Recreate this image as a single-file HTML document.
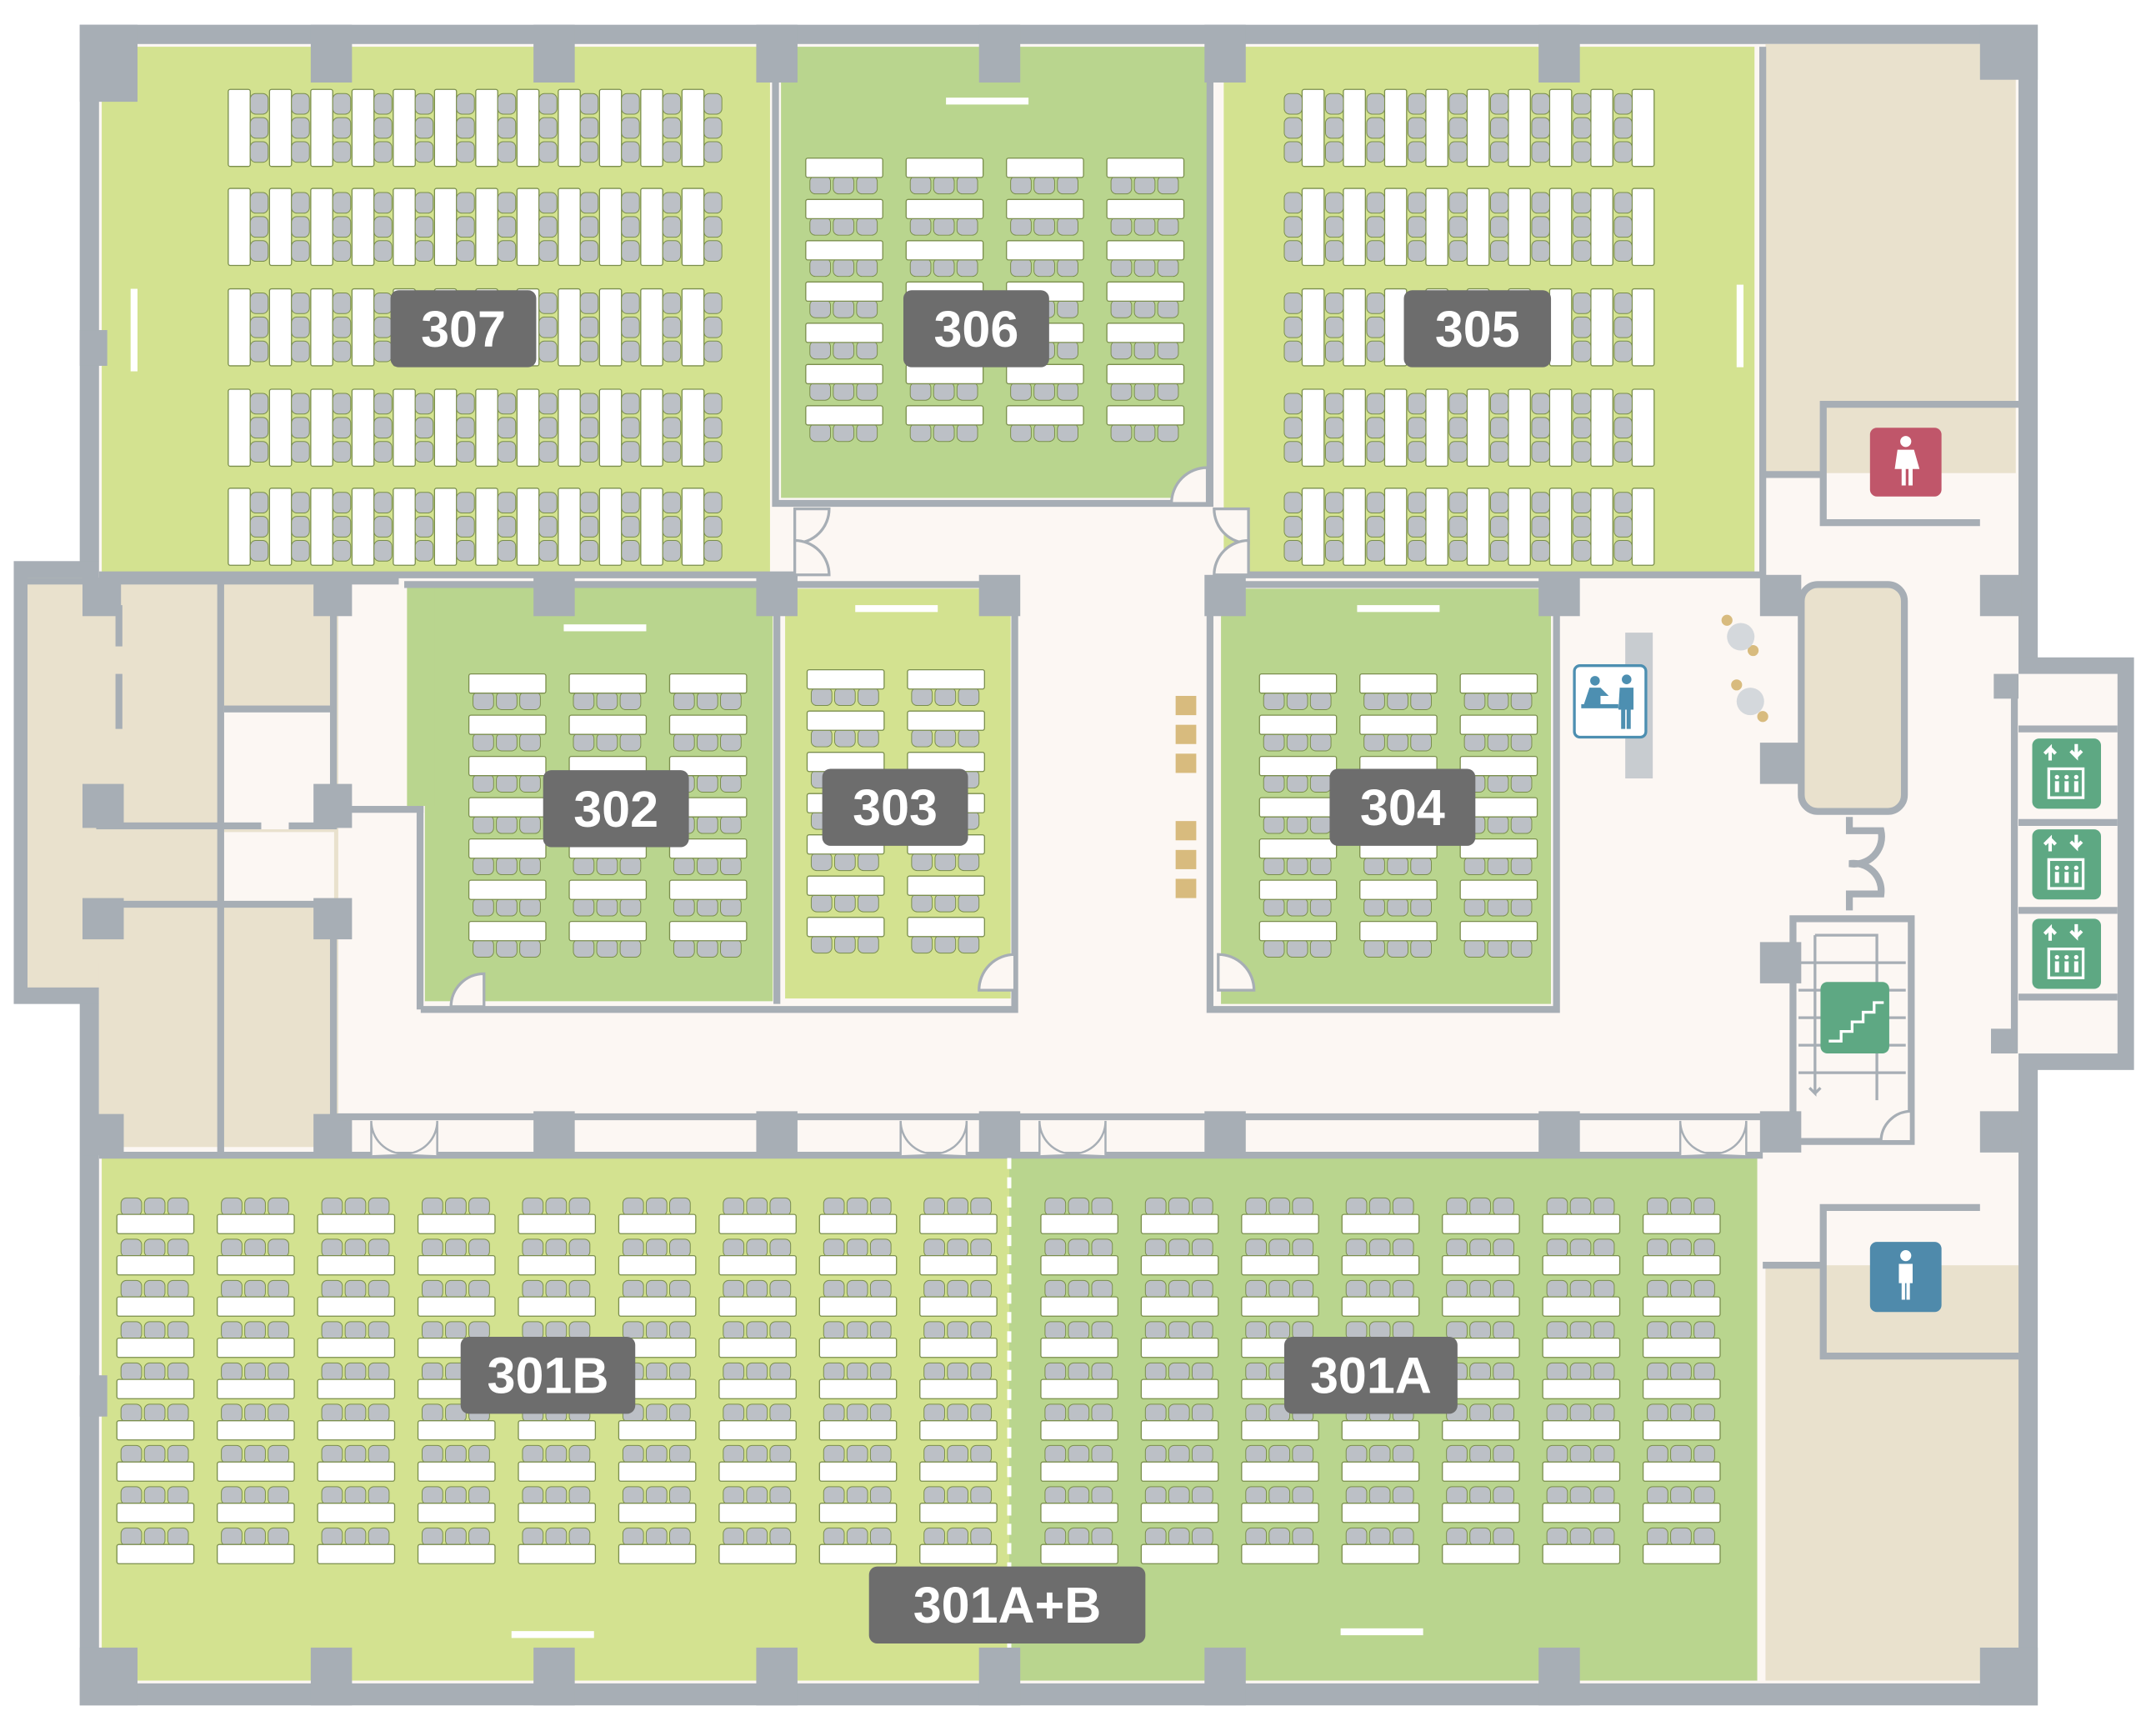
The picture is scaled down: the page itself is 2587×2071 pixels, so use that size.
<!DOCTYPE html>
<html><head><meta charset="utf-8"><style>
html,body{margin:0;padding:0;background:#fff;}
svg{display:block}
.lbl{font-family:"Liberation Sans",sans-serif;font-weight:bold;fill:#fff;font-size:37px;text-anchor:middle}
</style></head><body>
<svg id="s" width="2587" height="2071" viewBox="0 0 1568 1255" preserveAspectRatio="none" xmlns="http://www.w3.org/2000/svg">
<rect x="0" y="0" width="1568" height="1255" fill="#fff"/>
<rect x="58" y="18" width="1424" height="1222" fill="#a7aeb5"/>
<rect x="10" y="408" width="70" height="322" fill="#a7aeb5"/>
<rect x="1460" y="478" width="92" height="300" fill="#a7aeb5"/>
<rect x="72" y="32" width="1396" height="1192" fill="#fcf7f3"/>
<rect x="1465" y="490" width="75" height="276" fill="#fcf7f3"/>
<rect x="1284" y="32" width="182" height="312" fill="#e9e1cd"/>
<rect x="1284" y="920" width="184" height="302" fill="#e9e1cd"/>
<rect x="1310" y="425" width="75" height="165" rx="12" fill="#e9e1cd" stroke="#a7aeb5" stroke-width="5"/>
<rect x="20" y="420" width="226" height="298" fill="#e9e1cd"/>
<rect x="72" y="700" width="174" height="134" fill="#e9e1cd"/>
<rect x="163" y="517" width="80" height="86" fill="#fcf7f3"/>
<rect x="163" y="605" width="80" height="52" fill="#fcf7f3"/>
<g fill="#a7aeb5">
<rect x="20" y="420" width="270" height="5"/>
<rect x="158" y="420" width="5" height="418"/>
<rect x="240" y="420" width="5" height="170"/>
<rect x="163" y="513" width="80" height="5"/>
<rect x="70" y="598" width="120" height="5"/><rect x="210" y="598" width="35" height="5"/>
<rect x="70" y="655" width="175" height="5"/>
<rect x="240" y="655" width="5" height="180"/>
<rect x="84" y="440" width="5" height="30"/><rect x="84" y="490" width="5" height="40"/>
<rect x="245" y="586" width="63" height="5"/>
<rect x="303" y="586" width="5" height="148"/>
<rect x="60" y="420" width="28" height="28"/><rect x="228" y="420" width="28" height="28"/>
<rect x="60" y="570" width="30" height="32"/><rect x="228" y="570" width="28" height="32"/>
<rect x="60" y="653" width="30" height="30"/><rect x="228" y="653" width="28" height="30"/>
<rect x="60" y="810" width="30" height="30"/><rect x="228" y="810" width="28" height="30"/>
</g>
<rect x="74" y="34" width="486" height="382" fill="#d3e290"/>
<rect x="568" y="34" width="310" height="328" fill="#b9d58e"/>
<rect x="890" y="34" width="386" height="382" fill="#d3e290"/>
<rect x="309" y="426" width="253" height="302" fill="#b9d58e"/>
<rect x="296" y="426" width="20" height="160" fill="#b9d58e"/>
<rect x="571" y="428" width="164" height="298" fill="#d3e290"/>
<rect x="888" y="428" width="240" height="302" fill="#b9d58e"/>
<rect x="74" y="842" width="660" height="380" fill="#d3e290"/>
<rect x="734" y="842" width="544" height="380" fill="#b9d58e"/>
<g fill="none" stroke="#a7aeb5" stroke-width="5">
<path d="M564 34 V366 H880 V34"/>
<path d="M72 418 H580 M905 418 H1282 M1282 34 V420"/>
<path d="M294 425 H738 V734 H306 M565 425 V730"/>
<path d="M880 425 V734 H1132 V425 H880"/>
<path d="M245 812 H1282 M72 840 H1282"/>
<path d="M1282 345 H1326 V294 H1468 M1326 294 V380 H1440"/>
<path d="M1282 920 H1326 V986 H1468 M1326 920 V878 H1440"/>
<path d="M1304 668 H1390 V830 H1304 Z"/>
<path d="M1345 594 V604 H1368 A20 20 0 0 1 1345 628 A20 20 0 0 1 1368 650 H1345 V662"/>
<path d="M1468 530 H1540 M1468 598 H1540 M1468 662 H1540 M1468 725 H1540 M1465 490 V766"/>
</g>
<path d="M734 842 V1222" stroke="#fff" stroke-width="3" stroke-dasharray="8 6"/>
<g fill="#a7aeb5" id="pil"></g>
<g fill="#fcf7f3" stroke="#a7aeb5" stroke-width="2">
<path d="M578 370 h25 a25 25 0 0 1 -25 25z"/><path d="M578 418 h25 a25 25 0 0 0 -25 -25z"/>
<path d="M908 370 h-25 a25 25 0 0 0 25 25z"/><path d="M908 418 h-25 a25 25 0 0 1 25 -25z"/>
<path d="M852 366 a26 26 0 0 1 26 -26 v26z"/>
<path d="M328 732 a24 24 0 0 1 24 -24 v24z"/>
<path d="M712 720 a26 26 0 0 1 26 -26 v26z"/>
<path d="M886 694 a26 26 0 0 1 26 26 h-26z"/>
<path d="M1368 830 a22 22 0 0 1 22 -22 v22z"/>
</g>
<g fill="#fcf7f3" stroke="#a7aeb5" stroke-width="1.5" id="dd"></g>
<g fill="#fff">
<rect x="688" y="71" width="60" height="5"/><rect x="95" y="210" width="5" height="60"/><rect x="1263" y="207" width="5" height="60"/>
<rect x="410" y="454" width="60" height="5"/><rect x="622" y="440" width="60" height="5"/><rect x="987" y="440" width="60" height="5"/>
<rect x="372" y="1186" width="60" height="5"/><rect x="975" y="1184" width="60" height="5"/>
</g>
<g id="furn"></g>
<rect x="1182" y="460" width="20" height="106" fill="#c8ccd0"/>
<g fill="#d8bb7e"><circle cx="1256" cy="451" r="4"/><circle cx="1275" cy="473" r="4"/><circle cx="1263" cy="498" r="4"/><circle cx="1282" cy="521" r="4"/></g>
<g fill="#d4d8dc"><circle cx="1266" cy="463" r="10"/><circle cx="1273" cy="510" r="10"/></g>
<g fill="#d8bb7e"><rect x="855" y="506" width="15" height="14"/><rect x="855" y="527" width="15" height="14"/><rect x="855" y="548" width="15" height="14"/><rect x="855" y="597" width="15" height="14"/><rect x="855" y="618" width="15" height="14"/><rect x="855" y="639" width="15" height="14"/></g>
<rect x="1145" y="484" width="52" height="52" rx="4" fill="#fff" stroke="#4d8fb1" stroke-width="2"/>
<g fill="#4d8fb1"><circle cx="1160" cy="495" r="3.5"/><circle cx="1183" cy="494" r="3.5"/><path d="M1152 512 l4 -12 h8 l6 6 h-6 v8z"/><path d="M1178 500 h10 v16 h-2 v14 h-3 v-14 h-1 v14 h-3 v-14 h-2z"/><rect x="1150" y="512" width="27" height="3"/></g>
<rect x="1360" y="311" width="52" height="50" rx="5" fill="#c0566a"/>
<g fill="#fff"><circle cx="1386" cy="321" r="4"/><path d="M1380 327 h12 l4 14 h-5 v12 h-3 v-12 h-2 v12 h-3 v-12 h-5z"/></g>
<rect x="1360" y="903" width="52" height="51" rx="5" fill="#4f8aab"/>
<g fill="#fff"><circle cx="1386" cy="913" r="4"/><path d="M1381 919 h10 v14 h-2 v12 h-2.5 v-12 h-1 v12 h-2.5 v-12 h-2z"/></g>
<g id="elev"></g>
<g stroke="#a7aeb5" stroke-width="2" fill="none"><path d="M1308 700 H1386 M1308 720 H1386 M1308 740 H1386 M1308 760 H1386 M1308 780 H1386 M1320 680 H1365 V800 M1320 680 V795 l-4 -4 M1320 795 l4 -4"/></g>
<rect x="1324" y="714" width="50" height="52" rx="5" fill="#5ea883"/>
<path d="M1330 758 h10 v-7 h8 v-7 h8 v-7 h8 v-7 h6 v-2 h-8 v7 h-8 v7 h-8 v7 h-8 v7 h-8z" fill="#fff"/>
<g id="labels"></g>
</svg>
<script>
var NS="http://www.w3.org/2000/svg";
function el(p,t,a,txt){var e=document.createElementNS(NS,t);for(var k in a)e.setAttribute(k,a[k]);if(txt)e.textContent=txt;p.appendChild(e);return e;}
var f=document.getElementById('furn');
var DS="#7b8f4d",CH="#bcc0c6";
function vdesk(x,y,side){
  el(f,'rect',{x:x,y:y,width:16,height:56,rx:1.5,fill:'#fff',stroke:DS,'stroke-width':0.8});
  for(var i=0;i<3;i++){var cy=y+3+i*17.5;var cx=side>0?x+16:x-13;
    el(f,'rect',{x:cx,y:cy,width:13,height:15,rx:4,fill:CH,stroke:DS,'stroke-width':0.6});}
}
var r307=[65,137,210,283,355];
r307.forEach(function(y){for(var i=0;i<12;i++)vdesk(166+i*30,y,1);});
r307.forEach(function(y){for(var i=0;i<9;i++)vdesk(947+i*30,y,-1);});
function hdesk(x,y){
  for(var i=0;i<3;i++){el(f,'rect',{x:x+3+i*17,y:y-12,width:15,height:13,rx:4,fill:CH,stroke:DS,'stroke-width':0.6});}
  el(f,'rect',{x:x,y:y,width:56,height:14,rx:1.5,fill:'#fff',stroke:DS,'stroke-width':0.8});
}
function hdeskB(x,y){
  for(var i=0;i<3;i++){el(f,'rect',{x:x+3+i*17,y:y+13,width:15,height:13,rx:4,fill:CH,stroke:DS,'stroke-width':0.6});}
  el(f,'rect',{x:x,y:y,width:56,height:14,rx:1.5,fill:'#fff',stroke:DS,'stroke-width':0.8});
}
[586,659,732,805].forEach(function(x){for(var r=0;r<7;r++)hdeskB(x,115+r*30);});
[341,414,487].forEach(function(x){for(var r=0;r<7;r++)hdeskB(x,490+r*30);});
[587,660].forEach(function(x){for(var r=0;r<7;r++)hdeskB(x,487+r*30);});
[916,989,1062].forEach(function(x){for(var r=0;r<7;r++)hdeskB(x,490+r*30);});
for(var c=0;c<9;c++)for(var r=0;r<9;r++)hdesk(85+c*73,883+r*30);
for(var c=0;c<7;c++)for(var r=0;r<9;r++)hdesk(757+c*73,883+r*30);
var p=document.getElementById('pil');
function pl(x,y,w,h){el(p,'rect',{x:x,y:y,width:w,height:h});}
[226,388,550,712,876,1119].forEach(function(x){pl(x,18,30,42);pl(x,1198,30,42);});
pl(58,18,42,56);pl(1440,18,42,40);pl(58,1198,42,42);pl(1440,1198,42,42);
[388,550,712,876,1119].forEach(function(x){pl(x,418,30,30);pl(x,808,30,30);});
pl(1280,418,30,30);pl(1280,540,30,30);pl(1280,685,30,30);pl(1280,808,30,30);
pl(1440,418,30,30);pl(1440,808,30,30);pl(1450,490,18,18);pl(1448,748,18,18);
pl(58,240,20,26);pl(58,1000,20,30);
var dd=document.getElementById('dd');
[[270,840],[655,840],[756,840],[1222,840]].forEach(function(d){var x=d[0],y=d[1];
 el(dd,'path',{d:'M'+x+' '+y+' v-25 a24 24 0 0 0 24 24'});el(dd,'path',{d:'M'+(x+48)+' '+y+' v-25 a24 24 0 0 1 -24 24'});});
var ev=document.getElementById('elev');
[537,603,668].forEach(function(y){
 el(ev,'rect',{x:1478,y:y,width:50,height:51,rx:5,fill:'#5ea883'});
 el(ev,'path',{d:'M1491 '+(y+16)+' v-9 l-4 4 M1491 '+(y+7)+' l4 4 M1510 '+(y+4)+' v9 l-4 -4 M1510 '+(y+13)+' l4 -4',stroke:'#fff','stroke-width':2.5,fill:'none'});
 el(ev,'rect',{x:1490,y:y+22,width:25,height:21,fill:'none',stroke:'#fff','stroke-width':2});
 for(var i=0;i<3;i++){el(ev,'circle',{cx:1496+i*7,cy:y+28,r:1.6,fill:'#fff'});el(ev,'rect',{x:1494.5+i*7,y:y+31,width:3,height:8,fill:'#fff'});}
});
var L=document.getElementById('labels');
[[284,211,106,'307'],[657,211,106,'306'],[1021,211,107,'305'],[395,560,106,'302'],[598,559,106,'303'],[967,559,106,'304'],[335,972,127,'301B'],[934,972,126,'301A'],[632,1139,201,'301A+B']].forEach(function(a){
 el(L,'rect',{x:a[0],y:a[1],width:a[2],height:56,rx:6,fill:'#6d6d6d'});
 el(L,'text',{x:a[0]+a[2]/2,y:a[1]+41,'class':'lbl'},a[3]);
});
</script>
</body></html>
